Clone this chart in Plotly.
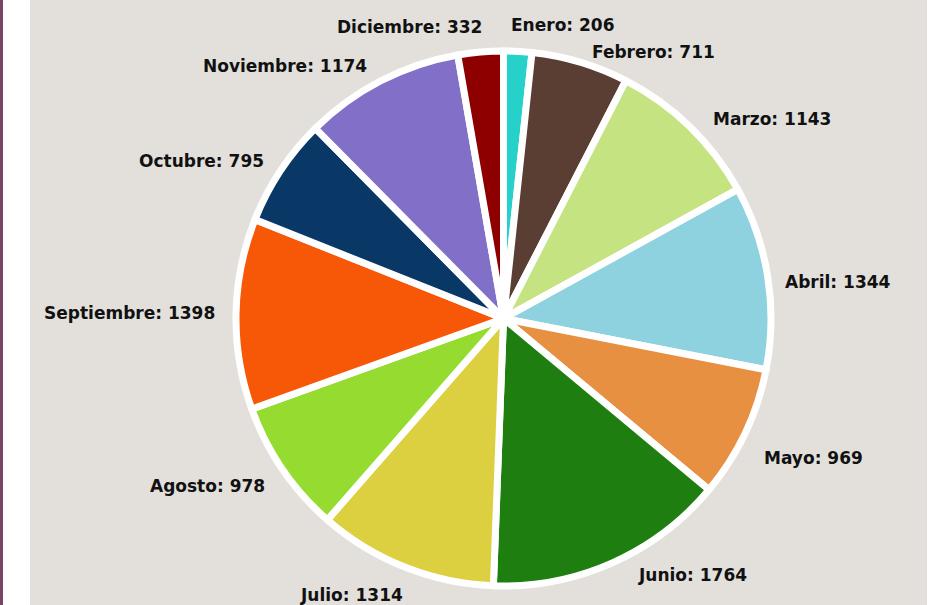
import math
import plotly.graph_objects as go

months = ["Enero", "Febrero", "Marzo", "Abril", "Mayo", "Junio", "Julio",
          "Agosto", "Septiembre", "Octubre", "Noviembre", "Diciembre"]
values = [206, 711, 1143, 1344, 969, 1764, 1314, 978, 1398, 795, 1174, 332]
colors = ["#26d1c9", "#5a3d33", "#c6e381", "#8dd2de", "#e89042", "#1f7e10",
          "#dccf40", "#96dc30", "#f75808", "#0a3866", "#826fc8", "#8e0000"]

# small pixel nudges for label placement (style only)
nudge_x = [-10, 5, 9, -2, 1, 17, 7, -1, -2, 0, -4, 5]
nudge_y = [-9, 7, 5, 8, 17, -4, 12, 7, -1, 0, 1, -8]

W, H = 938, 605
ML, MT, SIDE = 236, 51, 535
MR = W - ML - SIDE
MB = H - MT - SIDE
PW = PH = SIDE
R = SIDE / 2
CX, CY = ML + R, MT + R
LABEL_R = 285

fig = go.Figure(go.Pie(
    labels=months, values=values, sort=False, direction="clockwise", rotation=0,
    marker=dict(colors=colors, line=dict(color="white", width=7)),
    textinfo="none", hoverinfo="label+value", showlegend=False,
))

total = sum(values)
annotations = []
cum = 0
for i, (m, v) in enumerate(zip(months, values)):
    mid = (cum + v / 2) / total * 2 * math.pi
    cum += v
    px = CX + LABEL_R * math.sin(mid) + nudge_x[i]
    py = CY - LABEL_R * math.cos(mid) + nudge_y[i]
    annotations.append(dict(
        x=(px - ML) / PW, y=1 - (py - MT) / PH, xref="paper", yref="paper",
        text=f"{m}: {v}", showarrow=False,
        xanchor="left" if math.sin(mid) > 0 else "right", yanchor="middle",
        font=dict(family="DejaVu Sans", size=17, color="#111111", weight="bold"),
    ))

def px_rect(x0, x1, color):
    return dict(type="rect", xref="paper", yref="paper",
                x0=(x0 - ML) / PW, x1=(x1 - ML) / PW,
                y0=-(MB + 5) / PH, y1=1 + (MT + 5) / PH,
                fillcolor=color, line=dict(width=0), layer="above")

fig.update_layout(
    width=W, height=H, margin=dict(l=ML, r=MR, t=MT, b=MB),
    paper_bgcolor="#e3e0dc", plot_bgcolor="#e3e0dc",
    annotations=annotations,
    shapes=[px_rect(3, 30, "#ffffff"), px_rect(927, 945, "#ffffff"),
            px_rect(-5, 3, "#7a4466")],
)
fig.write_html("out.html", config={"displayModeBar": False},
               post_script="document.body.style.margin='0';document.body.style.overflow='hidden';")
